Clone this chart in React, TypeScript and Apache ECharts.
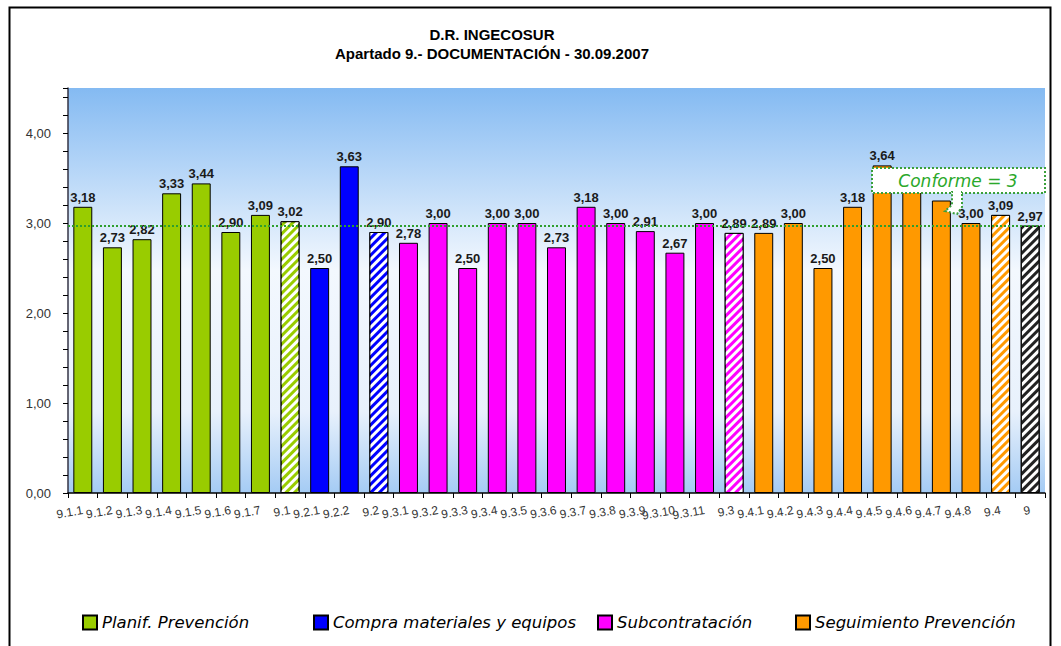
import React, { useEffect, useRef } from "react";
import * as echarts from "echarts";

const categories = [
  "9.1.1", "9.1.2", "9.1.3", "9.1.4", "9.1.5", "9.1.6", "9.1.7", "9.1",
  "9.2.1", "9.2.2", "9.2",
  "9.3.1", "9.3.2", "9.3.3", "9.3.4", "9.3.5", "9.3.6", "9.3.7", "9.3.8", "9.3.9", "9.3.10", "9.3.11", "9.3",
  "9.4.1", "9.4.2", "9.4.3", "9.4.4", "9.4.5", "9.4.6", "9.4.7", "9.4.8", "9.4",
  "9",
];

const planifValues = [3.18, 2.73, 2.82, 3.33, 3.44, 2.9, 3.09, 3.02];
const compraValues = [2.5, 3.63, 2.9];
const subconValues = [2.78, 3.0, 2.5, 3.0, 3.0, 2.73, 3.18, 3.0, 2.91, 2.67, 3.0, 2.89];
const seguimValues = [2.89, 3.0, 2.5, 3.18, 3.64, 3.36, 3.25, 3.0, 3.09];
const totalValues = [2.97];

const subtotalCategories = ["9.1", "9.2", "9.3", "9.4", "9"];
// labels hidden behind the "Conforme = 3" callout in the reference
const hiddenLabelCategories = ["9.4.6", "9.4.7"];
const conformeLine = 2.97;
const yTickLabels = ["0,00", "1,00", "2,00", "3,00", "4,00"];

const groups = [
  { name: "Planif. Prevención", values: planifValues, start: 0, color: "#99cc00", legend: true },
  { name: "Compra materiales y equipos", values: compraValues, start: 8, color: "#0000ff", legend: true },
  { name: "Subcontratación", values: subconValues, start: 11, color: "#ff00ff", legend: true },
  { name: "Seguimiento Prevención", values: seguimValues, start: 23, color: "#ff9900", legend: true },
  { name: "Total", values: totalValues, start: 32, color: "#ffffff", legend: false },
];

const fmt = (v: number) => v.toFixed(2).replace(".", ",");

export default function App() {
  const ref = useRef<HTMLDivElement>(null);

  useEffect(() => {
    document.body.style.margin = "0";
    if (!ref.current) return;
    const chart = echarts.init(ref.current, undefined, { renderer: "svg" });

    const series: any[] = groups.map((g, gi) => {
      const data: any[] = categories.map(() => "-");
      g.values.forEach((v, i) => {
        const idx = g.start + i;
        const cat = categories[idx];
        const item: any = { value: v };
        if (subtotalCategories.includes(cat)) {
          const isTotal = g.name === "Total";
          item.itemStyle = {
            color: isTotal ? "#ffffff" : g.color,
            decal: {
              symbol: "rect",
              symbolSize: 1,
              color: isTotal ? "#222222" : "#ffffff",
              dashArrayX: [1, 0],
              dashArrayY: [3, 3],
              rotation: -Math.PI / 4,
            },
          };
        }
        if (hiddenLabelCategories.includes(cat)) {
          item.label = { show: false };
        }
        data[idx] = item;
      });
      const s: any = {
        name: g.name,
        type: "bar",
        stack: "all",
        barWidth: "64%",
        data,
        itemStyle: { color: g.color, borderColor: "#000000", borderWidth: 1 },
        label: {
          show: true,
          position: "top",
          distance: 3,
          formatter: (p: any) => fmt(Number(p.value)),
          fontFamily: "'Liberation Sans Narrow', 'Arial Narrow', sans-serif",
          fontWeight: "bold",
          fontSize: 13,
          color: "#1a1a1a",
        },
      };
      if (gi === 0) {
        s.markLine = {
          silent: true,
          symbol: "none",
          label: { show: false },
          lineStyle: { color: "#2e9e2e", type: "dotted", width: 2 },
          data: [{ yAxis: conformeLine }],
          z: 5,
        };
      }
      return s;
    });

    const legendLefts = [82, 313, 597, 795];
    const legends = groups
      .filter((g) => g.legend)
      .map((g, i) => ({
        data: [g.name],
        left: legendLefts[i],
        top: 614,
        padding: 0,
        icon: "rect",
        itemWidth: 14,
        itemHeight: 14,
        itemGap: 4,
        textStyle: {
          fontFamily: "'DejaVu Sans', Verdana, sans-serif",
          fontStyle: "italic",
          fontSize: 16.5,
          color: "#000000",
        },
        selectedMode: false,
      }));

    chart.setOption({
      animation: false,
      backgroundColor: "#ffffff",
      title: {
        text: "D.R. INGECOSUR\nApartado 9.- DOCUMENTACIÓN - 30.09.2007",
        left: 492,
        top: 25,
        padding: 0,
        textAlign: "center",
        textStyle: {
          fontFamily: "'Liberation Sans Narrow', 'Arial Narrow', sans-serif",
          fontWeight: "bold",
          fontSize: 15,
          lineHeight: 19,
          color: "#000000",
        },
      },
      legend: legends,
      grid: {
        left: 68,
        right: 16,
        top: 88,
        bottom: 153,
        show: true,
        borderWidth: 0,
        backgroundColor: new echarts.graphic.LinearGradient(0, 0, 0, 1, [
          { offset: 0, color: "#84baf2" },
          { offset: 0.45, color: "#f3f8fe" },
          { offset: 0.8, color: "#e8f1fc" },
          { offset: 1, color: "#a4cbf4" },
        ]),
      },
      xAxis: {
        type: "category",
        data: categories,
        axisLine: { lineStyle: { color: "#000000", width: 1.5 } },
        axisTick: { show: true, length: 5, lineStyle: { color: "#000000" } },
        axisLabel: {
          interval: 0,
          rotate: 10,
          margin: 17,
          fontFamily: "'Liberation Sans', Arial, sans-serif",
          fontSize: 12,
          color: "#333333",
        },
      },
      yAxis: {
        type: "value",
        min: 0,
        max: 4.5,
        interval: 0.2,
        splitLine: { show: false },
        axisLine: { show: true, lineStyle: { color: "#333344", width: 1.5 } },
        axisTick: { show: true, length: 5, lineStyle: { color: "#000000" } },
        axisLabel: {
          margin: 17,
          fontFamily: "'Liberation Sans', Arial, sans-serif",
          fontSize: 13,
          color: "#333333",
          formatter: (v: number) => {
            const r = Math.round(v);
            if (Math.abs(v - r) < 1e-6 && r < yTickLabels.length) return yTickLabels[r];
            return "";
          },
        },
      },
      series,
      graphic: [
        {
          type: "rect",
          left: 7,
          top: 5,
          z: 100,
          silent: true,
          shape: { width: 1041, height: 700 },
          style: { fill: "none", stroke: "#000000", lineWidth: 2 },
        },
        {
          type: "group",
          z: 100,
          silent: true,
          children: [
            {
              type: "rect",
              shape: { x: 872, y: 168, width: 173, height: 25 },
              style: { fill: "#ffffff", stroke: "#3aa03a", lineWidth: 2, lineDash: [2, 2] },
              z: 100,
            },
            {
              type: "polygon",
              shape: {
                points: [
                  [952, 192],
                  [962, 192],
                  [962, 207],
                  [957, 214],
                  [945, 211],
                  [952, 205],
                ],
              },
              style: { fill: "#ffffff", stroke: "#3aa03a", lineWidth: 2, lineDash: [2, 2] },
              z: 101,
            },
            {
              type: "rect",
              shape: { x: 953, y: 189, width: 8, height: 6 },
              style: { fill: "#ffffff" },
              z: 102,
            },
            {
              type: "text",
              x: 958,
              y: 181,
              style: {
                text: "Conforme = 3",
                fill: "#2aa82a",
                font: "italic 17px 'DejaVu Sans', Verdana, sans-serif",
                align: "center",
                verticalAlign: "middle",
              },
              z: 103,
            },
          ],
        },
      ],
    });

    return () => chart.dispose();
  }, []);

  return <div ref={ref} style={{ width: 1061, height: 646 }} />;
}
